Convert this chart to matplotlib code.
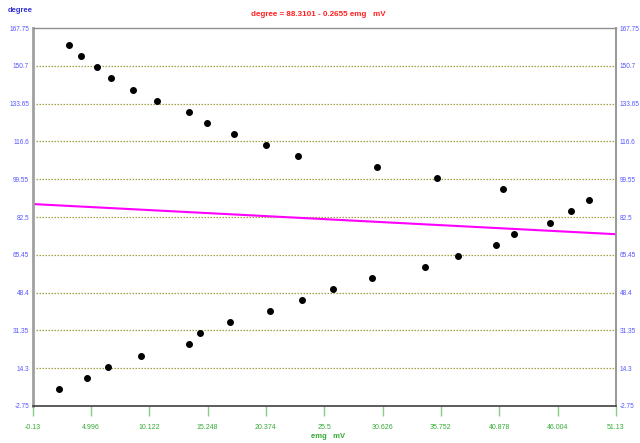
import matplotlib
matplotlib.use("Agg")
import matplotlib.pyplot as plt
from matplotlib import font_manager
import numpy as np

# Data (emg mV vs degree)
emg_mv = [2.17, 4.66, 6.48, 9.38, 13.64, 14.56, 17.19, 20.76, 23.55, 26.30,
          29.70, 34.32, 37.28, 40.59, 42.20, 45.31, 47.15, 48.79, 41.18, 35.38,
          30.11, 23.17, 20.38, 17.60, 15.17, 13.59, 10.78, 8.70, 6.79, 5.54,
          4.16, 3.08]
degree = [5, 10, 15, 20, 25, 30, 35, 40, 45, 50,
          55, 60, 65, 70, 75, 80, 85, 90, 95, 100,
          105, 110, 115, 120, 125, 130, 135, 140, 145, 150,
          155, 160]

fit_intercept = 88.3101
fit_slope = -0.2655

x_ticks = [-0.13, 4.996, 10.122, 15.248, 20.374, 25.5, 30.626, 35.752, 40.878, 46.004, 51.13]
x_tick_labels = ["-0.13", "4.996", "10.122", "15.248", "20.374", "25.5", "30.626",
                 "35.752", "40.878", "46.004", "51.13"]
y_ticks = [-2.75, 14.3, 31.35, 48.4, 65.45, 82.5, 99.55, 116.6, 133.65, 150.7, 167.75]
y_tick_labels = ["-2.75", "14.3", "31.35", "48.4", "65.45", "82.5", "99.55",
                 "116.6", "133.65", "150.7", "167.75"]

installed = {f.name for f in font_manager.fontManager.ttflist}
if 'Liberation Sans Narrow' in installed:
    FONT = ['Liberation Sans Narrow', 'DejaVu Sans']
    tick_fs, title_fs, lab_fs = 6.3, 7.0, 6.5
else:
    FONT = ['Liberation Sans', 'DejaVu Sans']
    tick_fs, title_fs, lab_fs = 4.7, 5.8, 5.5
plt.rcParams['font.family'] = FONT

fig = plt.figure(figsize=(6.4, 4.43), dpi=100)
ax = fig.add_axes([32.5/640, 1-406/443, (616-32.5)/640, (406-28)/443])

xmin, xmax = x_ticks[0], x_ticks[-1]
ymin, ymax = y_ticks[0], y_ticks[-1]
ax.set_xlim(xmin, xmax)
ax.set_ylim(ymin, ymax)

# grid lines
for yv in y_ticks[1:-1]:
    ax.axhline(yv, color='#a0a040', linestyle=(0, (1.2, 1.2)), linewidth=0.9, zorder=1)

# regression line
xl = np.array([xmin, xmax])
ax.plot(xl, fit_intercept + fit_slope * xl, color='#ff00ff', linewidth=1.5, zorder=2)

# points
ax.plot(emg_mv, degree, 'o', color='black', markersize=4.0, zorder=3)

# spines
ax.spines['left'].set_color('#a0a0a0')
ax.spines['left'].set_linewidth(2)
ax.spines['top'].set_color('#909090')
ax.spines['top'].set_linewidth(1)
ax.spines['right'].set_color('#909090')
ax.spines['right'].set_linewidth(1.3)
ax.spines['bottom'].set_color('#404040')
ax.spines['bottom'].set_linewidth(1.2)

ax.set_xticks(x_ticks)
ax.set_xticklabels(x_tick_labels)
ax.tick_params(axis='x', direction='out', length=7, width=1, color='#88cc88',
               labelcolor='#33aa33', labelsize=tick_fs + 0.3, pad=6)
ax.set_yticks(y_ticks)
ax.set_yticklabels(y_tick_labels)
ax.tick_params(axis='y', length=0, labelcolor='#5555ff', labelsize=tick_fs, pad=2.5,
               labelleft=True, labelright=True)

fig.text(8/640, 1-11/443, "degree", color='#3333cc', fontsize=lab_fs, fontweight='bold',
         ha='left', va='center')
fig.text(318/640, 1-14/443, "degree = 88.3101 - 0.2655 emg   mV", color='#ff2020',
         fontsize=title_fs, fontweight='bold', ha='center', va='center')
fig.text(328/640, 1-437/443, "emg   mV", color='#33aa33', fontsize=lab_fs, fontweight='bold',
         ha='center', va='center')

fig.savefig("out.png", dpi=100)
